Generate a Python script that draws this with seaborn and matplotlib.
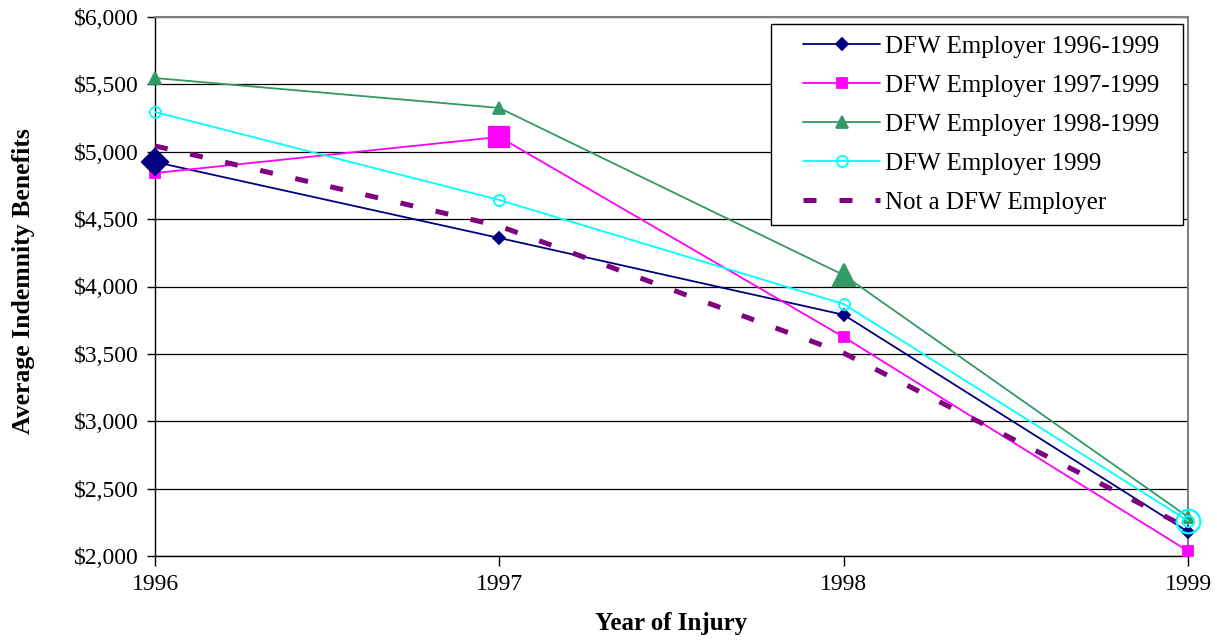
import matplotlib
matplotlib.use("Agg")
import matplotlib.pyplot as plt
import seaborn as sns
import pandas as pd
from matplotlib.ticker import FuncFormatter
from matplotlib.legend_handler import HandlerLine2D

years = [1996, 1997, 1998, 1999]
series_names = ["DFW Employer 1996-1999", "DFW Employer 1997-1999",
                "DFW Employer 1998-1999", "DFW Employer 1999", "Not a DFW Employer"]
dfw_1996_1999 = [4924, 4360, 3790, 2180]
dfw_1997_1999 = [4842, 5110, 3625, 2037]
dfw_1998_1999 = [5547, 5325, 4085, 2290]
dfw_1999 = [5295, 4642, 3870, 2262]
not_dfw = [5043, 4449, 3506, 2208]
# index of the highlighted (enlarged) point in each series
highlight_idx = [0, 1, 2, 3, None]

all_values = [dfw_1996_1999, dfw_1997_1999, dfw_1998_1999, dfw_1999, not_dfw]
y_ticks = [2000, 2500, 3000, 3500, 4000, 4500, 5000, 5500, 6000]

sns.set_theme(style="white")
plt.rcParams['font.family'] = ['Liberation Serif', 'DejaVu Serif']
plt.rcParams['text.color'] = 'black'
plt.rcParams['axes.labelcolor'] = 'black'
plt.rcParams['xtick.color'] = 'black'
plt.rcParams['ytick.color'] = 'black'

styles = [
    dict(color="#000080", marker="D", ms=6, mfc="#000080", lw=1.3, ls="-", big=13),
    dict(color="#FF00FF", marker="s", ms=7, mfc="#FF00FF", lw=1.3, ls="-", big=14),
    dict(color="#339966", marker="^", ms=8, mfc="#339966", lw=1.3, ls="-", big=16),
    dict(color="#00FFFF", marker="o", ms=8, mfc="none", lw=1.3, ls="-", big=17),
    dict(color="#800080", marker=None, ms=0, mfc="none", lw=3.6, ls="--", big=0),
]

fig = plt.figure(figsize=(12.17, 6.4), dpi=100)
ax = fig.add_axes([155/1217, 84/640, 1033/1217, 539/640])

for name, vals, st, hi in zip(series_names, all_values, styles, highlight_idx):
    df = pd.DataFrame({"year": years, "value": vals})
    kw = dict(data=df, x="year", y="value", ax=ax, color=st["color"],
              linewidth=st["lw"], label=name)
    if st["marker"]:
        kw.update(marker=st["marker"], markersize=st["ms"], markerfacecolor=st["mfc"],
                  markeredgecolor=st["color"], markeredgewidth=1.3)
    sns.lineplot(**kw)
    line = ax.lines[-1]
    line.set_clip_on(False)
    line.set_zorder(3)
    if st["ls"] == "--":
        line.set_dashes((2.6, 4.6))
    if hi is not None:
        ax.plot([years[hi]], [vals[hi]], marker=st["marker"], markersize=st["big"],
                markerfacecolor=st["mfc"], markeredgecolor=st["color"],
                markeredgewidth=1.6, linestyle="none", clip_on=False, zorder=4)

ax.set_xlim(1996, 1999)
ax.set_ylim(2000, 6000)
ax.set_xticks(years)
ax.set_xticklabels([str(y) for y in years])
ax.set_yticks(y_ticks)
ax.yaxis.set_major_formatter(FuncFormatter(lambda v, p: f"${v:,.0f}"))
ax.grid(axis="y", color="black", linewidth=0.9)
ax.grid(axis="x", visible=False)
ax.set_axisbelow(True)

for s in ["left", "bottom"]:
    ax.spines[s].set_color("black")
    ax.spines[s].set_linewidth(1.0)
for s in ["top", "right"]:
    ax.spines[s].set_color("#808080")
    ax.spines[s].set_linewidth(1.5)

ax.tick_params(axis="both", which="major", labelsize=17, colors="black",
               direction="out", width=1.0)
ax.tick_params(axis="y", length=6, pad=6, left=True)
ax.tick_params(axis="x", length=7, pad=6, bottom=True)

ax.set_xlabel("Year of Injury", fontsize=18, fontweight="bold", color="black")
ax.set_ylabel("Average Indemnity Benefits", fontsize=18.5, fontweight="bold", color="black")
ax.xaxis.set_label_coords(0.5, -0.103)
ax.yaxis.set_label_coords(-0.116, 0.51)


class PaddedLineHandler(HandlerLine2D):
    pad_px = 15

    def create_artists(self, legend, orig_handle, xdescent, ydescent, width,
                       height, fontsize, trans):
        return super().create_artists(legend, orig_handle, xdescent - self.pad_px,
                                      ydescent, width - self.pad_px, height,
                                      fontsize, trans)


handles, labels = ax.get_legend_handles_labels()
handles, labels = handles[:5], [l + "  " for l in labels[:5]]
leg = ax.legend(handles, labels, loc="upper right",
                bbox_to_anchor=(0.9952, 0.987), borderaxespad=0,
                fontsize=18, frameon=True, fancybox=False, edgecolor="black",
                framealpha=1, handlelength=3.9, labelspacing=0.66,
                handletextpad=0.2, borderpad=0.45,
                handler_map={h: PaddedLineHandler() for h in handles})
leg.get_frame().set_linewidth(1.0)
for t in leg.get_texts():
    t.set_color("black")

fig.savefig("out.png", dpi=100, facecolor="white")
